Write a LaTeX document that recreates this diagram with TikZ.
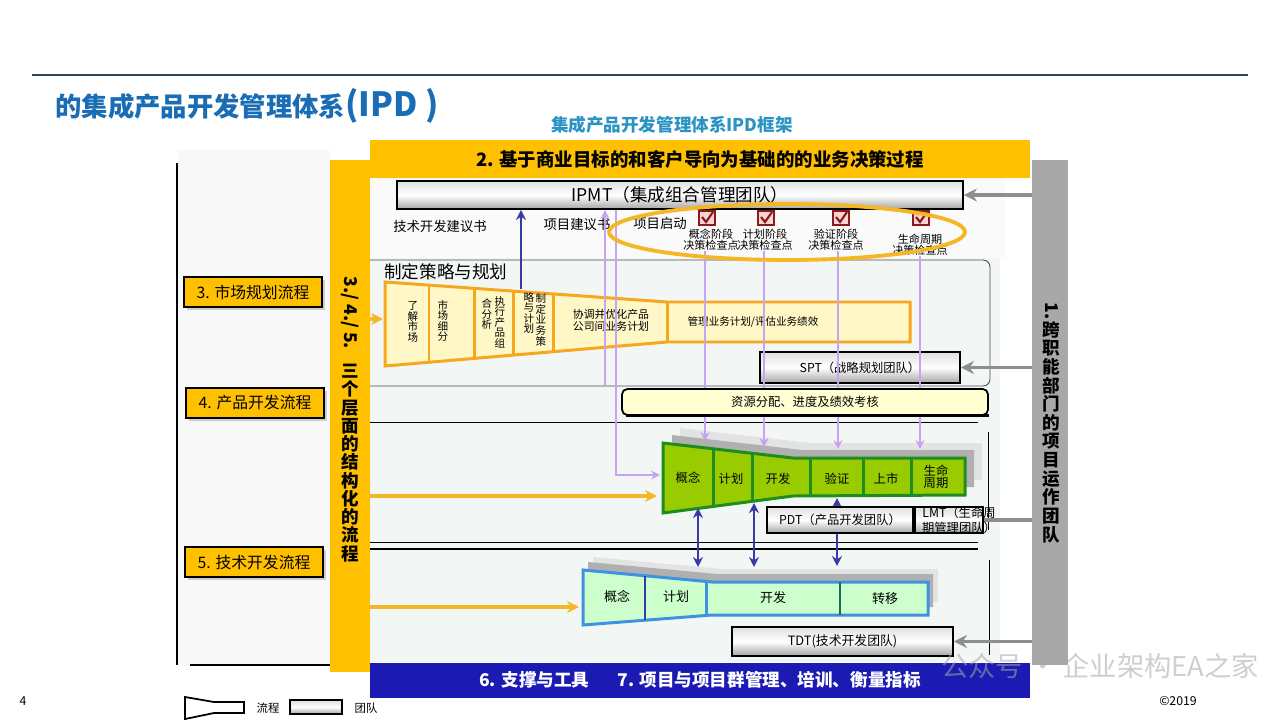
\documentclass[tikz,border=0pt]{standalone}
\usepackage{fontspec}
\setmainfont{Noto Sans CJK SC}
\usetikzlibrary{calc, positioning}
\usetikzlibrary{arrows.meta}
\usetikzlibrary{shapes.geometric}
\usetikzlibrary{shadows}

\newcommand{\ipdfs}[1]{\fontsize{#1}{#1}\selectfont}

\definecolor{ipdgold}{HTML}{FFC000}
\definecolor{ipdarrowgold}{HTML}{F4B826}
\definecolor{ipdtitle}{HTML}{1A6DB5}
\definecolor{ipdsub}{HTML}{2A93C3}
\definecolor{ipdrule}{HTML}{2F4858}
\definecolor{ipdnavy}{HTML}{3A3AA6}
\definecolor{ipdviolet}{HTML}{C7A4F2}
\definecolor{ipdgrey}{HTML}{8E8E8E}
\definecolor{ipdbar}{HTML}{A8A8A8}
\definecolor{ipdblue}{HTML}{1B1BB3}
\definecolor{stratline}{HTML}{F5A71E}
\definecolor{stratfill}{HTML}{FFF8C6}
\definecolor{prodfill}{HTML}{99CC00}
\definecolor{prodline}{HTML}{1E8C1E}
\definecolor{techfill}{HTML}{CCFFCC}
\definecolor{techline}{HTML}{3E92E2}
\definecolor{techteal}{HTML}{1B6B5B}
\definecolor{chkred}{HTML}{8B1A1A}
\definecolor{chkfill}{HTML}{F8D3D3}
\definecolor{mintbg}{HTML}{F2F7F5}
\definecolor{panelbg}{HTML}{F8F8F8}
\definecolor{resfill}{HTML}{FFFFD2}

\tikzset{
  teambox/.style={draw=black, line width=1.1pt, top color=gray!25, bottom color=gray!70, middle color=white, inner sep=1pt, font=\ipdfs{7}},
  flowlabel/.style={draw=black, line width=1.1pt, fill=ipdgold, drop shadow={shadow xshift=1.6pt, shadow yshift=-1.6pt, fill=gray!70}, minimum width=2.76cm, minimum height=0.6cm, inner sep=0pt, font=\ipdfs{9}},
  chkbox/.style={draw=chkred, line width=0.9pt, fill=chkfill, minimum width=0.32cm, minimum height=0.28cm, inner sep=0pt},
  chkmark/.style={chkred, line width=1.2pt},
  viopath/.style={ipdviolet, line width=1.1pt},
  navyarrow/.style={ipdnavy, line width=1.1pt},
  greyarrow/.style={ipdgrey, line width=1.8pt, -{Stealth[length=2.6mm, width=2.6mm]}},
  goldarrow/.style={ipdarrowgold, line width=1.8pt, -{Stealth[length=2.4mm, width=2.4mm]}},
  smalltxt/.style={font=\ipdfs{6.3}, align=center, inner sep=0pt},
  vstack/.style={font=\ipdfs{6}, align=center, inner sep=0pt},
  funnelcell/.style={font=\ipdfs{7}, align=center, inner sep=0pt},
}

\begin{document}
\begin{tikzpicture}[x=0.02cm, y=-0.02cm]
\useasboundingbox (0,0) rectangle (1280,720);

% header
\draw[ipdrule, line width=1.2pt] (32,75) -- (1248,75);
\node[anchor=west, inner sep=0pt, text=ipdtitle, font=\bfseries\ipdfs{15}] (title) at (55,106) {的集成产品开发管理体系{\ipdfs{19}(IPD )}};
\node[text=ipdsub, font=\bfseries\ipdfs{10}] (subtitle) at (672,125) {集成产品开发管理体系IPD框架};

% backgrounds
\fill[panelbg] (178,150) rectangle (330,666);
\draw[line width=0.6pt] (177,163) -- (177,665);
\draw[line width=0.6pt] (190,665) -- (330,665);
\fill[mintbg] (370,178) rectangle (1000,662);
\fill[gray!4] (370,178) rectangle (1005,258);

% frames and separators
\draw[gray!60!black, line width=0.5pt, rounded corners=4pt] (360,260) rectangle (990,386);
\draw[line width=0.5pt] (370,422) -- (978,422);
\draw[line width=0.5pt] (370,542) -- (978,542);
\draw[line width=1.2pt] (370,549) -- (978,549);
\draw[line width=0.5pt] (988,432) -- (988,530);
\draw[line width=0.5pt] (989,560) -- (989,655);

% bars
\node[fill=ipdgold, minimum width=13.2cm, minimum height=0.76cm, inner sep=0pt, font=\bfseries\ipdfs{10.5}] (decisionbar) at (700,159) {2. 基于商业目标的和客户导向为基础的的业务决策过程};
\node[fill=ipdgold, minimum width=0.8cm, minimum height=10.24cm, inner sep=0pt] (layerbar) at (350,416) {};
\node[rotate=-90, inner sep=0pt, font=\bfseries\ipdfs{10}] (layertag) at (350,313) {3./ 4./ 5.};
\node[align=center, inner sep=0pt, font=\bfseries\fontsize{10}{10.4}\selectfont] (layertext) at (350,463) {三\\个\\层\\面\\的\\结\\构\\化\\的\\流\\程};
\node[fill=ipdbar, minimum width=0.72cm, minimum height=10.1cm, inner sep=0pt] (crossbar) at (1050,412.5) {};
\node[rotate=-90, inner sep=0pt, font=\bfseries\ipdfs{10}] (crosstag) at (1052,311) {1.};
\node[align=center, inner sep=0pt, font=\bfseries\fontsize{10}{10.6}\selectfont] (crosstext) at (1051,432) {跨\\职\\能\\部\\门\\的\\项\\目\\运\\作\\团\\队};
\node[fill=ipdblue, minimum width=13.2cm, minimum height=0.7cm, inner sep=0pt, text=white, font=\bfseries\ipdfs{10}] (supportbar) at (700,680) {6. 支撑与工具\hspace{1.6em}7. 项目与项目群管理、培训、衡量指标};

% left process labels
\node[flowlabel] (mkt) at (253,292) {3. 市场规划流程};
\node[flowlabel] (pdev) at (255,403) {4. 产品开发流程};
\node[flowlabel] (tdev) at (254,562) {5. 技术开发流程};

% decision row
\node[teambox, minimum width=11.32cm, minimum height=0.56cm, font=\ipdfs{10}] (ipmt) at (680,195) {IPMT（集成组合管理团队）};
\node[font=\ipdfs{7.6}, inner sep=0pt] (techprop) at (440,226) {技术开发建议书};
\node[font=\ipdfs{7.6}, inner sep=0pt] (projprop) at (577,224) {项目建议书};
\node[font=\ipdfs{7.6}, inner sep=0pt] (projstart) at (660,223) {项目启动};
\foreach \n/\x in {1/707,2/766,3/841,4/921} {
  \node[chkbox] (cb\n) at (\x,218) {};
  \draw[chkmark] ($(cb\n.center)+(-5,-1)$) -- ($(cb\n.center)+(-1,4)$) -- ($(cb\n.center)+(6,-6)$);
}
\node[smalltxt] (cp1) at (711,240) {概念阶段\\决策检查点};
\node[smalltxt] (cp2) at (765,240) {计划阶段\\决策检查点};
\node[smalltxt] (cp3) at (836,240) {验证阶段\\决策检查点};
\node[smalltxt] (cp4) at (920,245) {生命周期\\决策检查点};

% strategy funnel
\node[anchor=west, inner sep=0pt, font=\ipdfs{10}] (stratlbl) at (384,272) {制定策略与规划};
\coordinate (sTL) at (385,282);
\coordinate (sTM) at (667,302);
\coordinate (sTR) at (910,302);
\coordinate (sBR) at (910,342);
\coordinate (sBM) at (667,342);
\coordinate (sBL) at (385,366);
\draw[stratline, fill=stratfill, line width=1.7pt] (sTL) -- (sTM) -- (sTR) -- (sBR) -- (sBM) -- (sBL) -- cycle;
\foreach \t in {0.156,0.319,0.454,0.596,1} {
  \draw[stratline, line width=1.7pt] ($(sTL)!\t!(sTM)$) -- ($(sBL)!\t!(sBM)$);
}
\node[vstack] (s1) at (413,322) {了\\解\\市\\场};
\node[vstack] (s2) at (443,321) {市\\场\\细\\分};
\node[vstack] (s3a) at (487,314) {合\\分\\析};
\node[vstack] (s3b) at (500,322) {执\\行\\产\\品\\组};
\node[vstack] (s4a) at (529,313) {略\\与\\计\\划};
\node[vstack] (s4b) at (541,320) {制\\定\\业\\务\\策};
\node[font=\fontsize{6.2}{7}\selectfont, align=center, inner sep=0pt] (s5) at (611,320) {协调并优化产品\\公司间业务计划};
\node[font=\ipdfs{6}, inner sep=0pt] (s6) at (753,322) {管理业务计划/评估业务绩效};
\node[teambox, minimum width=4cm, minimum height=0.62cm] (spt) at (860,367.5) {SPT（战略规划团队）};

% product funnel
\coordinate (pTL) at (663,443);
\coordinate (pTM) at (793,458);
\coordinate (pTR) at (965,458);
\coordinate (pBR) at (965,495);
\coordinate (pBM) at (793,496);
\coordinate (pBL) at (663,513);
\foreach \dx/\dy/\col in {17/-15/gray!22, 9/-8/gray!62} {
  \fill[\col, shift={(\dx,\dy)}] (663,443) -- (793,458) -- (965,458) -- (965,495) -- (793,496) -- (663,513) -- cycle;
}
\draw[prodline, fill=prodfill, line width=1.7pt] (pTL) -- (pTM) -- (pTR) -- (pBR) -- (pBM) -- (pBL) -- cycle;
\foreach \t in {0.385,0.69} {
  \draw[prodline, line width=1.7pt] ($(pTL)!\t!(pTM)$) -- ($(pBL)!\t!(pBM)$);
}
\foreach \x in {810,863,911} {
  \draw[prodline, line width=1.7pt] (\x,458) -- (\x,496);
}
\node[funnelcell] (pc1) at (688,478) {概念};
\node[funnelcell] (pc2) at (731,479) {计划};
\node[funnelcell] (pc3) at (778,479) {开发};
\node[funnelcell] (pc4) at (837,479) {验证};
\node[funnelcell] (pc5) at (886,479) {上市};
\node[funnelcell] (pc6) at (936,477) {生命\\周期};

% technology funnel
\coordinate (tTL) at (583,570);
\coordinate (tTM) at (712,582);
\coordinate (tTR) at (928,582);
\coordinate (tBR) at (928,615);
\coordinate (tBM) at (712,615);
\coordinate (tBL) at (583,625);
\foreach \dx/\dy/\col in {10/-13/gray!22, 5/-8/gray!62} {
  \fill[\col, shift={(\dx,\dy)}] (583,570) -- (712,582) -- (928,582) -- (928,615) -- (712,615) -- (583,625) -- cycle;
}
\draw[techline, fill=techfill, line width=1.7pt] (tTL) -- (tTM) -- (tTR) -- (tBR) -- (tBM) -- (tBL) -- cycle;
\draw[ipdnavy, line width=1.2pt] ($(tTL)!0.48!(tTM)$) -- ($(tBL)!0.48!(tBM)$);
\draw[techline, line width=1.8pt] ($(tTL)!0.96!(tTM)$) -- ($(tBL)!0.96!(tBM)$);
\draw[techteal, line width=1.3pt] (840,582) -- (840,615);
\node[funnelcell, font=\ipdfs{7.4}] (tc1) at (617,596) {概念};
\node[funnelcell, font=\ipdfs{7.4}] (tc2) at (676,597) {计划};
\node[funnelcell, font=\ipdfs{7.4}] (tc3) at (773,598) {开发};
\node[funnelcell, font=\ipdfs{7.4}] (tc4) at (885,599) {转移};

% violet and navy links to IPMT
\coordinate (propbase) at (605,386);
\coordinate (startx) at (616,475);
\coordinate (pIn) at (660,475);
\coordinate (sTop) at (521,289);
\draw[viopath, -{Stealth[length=1.8mm, width=1.8mm]}] (propbase) -- (propbase |- ipmt.south);
\draw[viopath, -{Stealth[length=1.8mm, width=1.8mm]}] (ipmt.south -| startx) -- (startx) -- (pIn);
\draw[navyarrow, -{Stealth[length=2mm, width=2mm]}] (sTop) -- (sTop |- ipmt.south);
\foreach \n/\x/\y in {1/705/441,2/764/447,3/838/449,4/920/449} {
  \coordinate (pin\n) at (\x,\y);
  \draw[viopath, -{Stealth[length=1.8mm, width=1.8mm]}] (pin\n |- cp\n.south) -- (pin\n);
}

\node[draw=black, line width=1pt, fill=resfill, rounded corners=3pt, minimum width=7.32cm, minimum height=0.52cm, inner sep=0pt, font=\ipdfs{7}] (resource) at (805,402) {资源分配、进度及绩效考核};
\draw[line width=1.6pt] ([xshift=3pt]resource.south west) -- (resource.south east);

% navy links product <-> technology
\foreach \n/\x/\ya/\yb in {1/698/508/567,2/754/503/567,3/837/498/566} {
  \coordinate (pb\n) at (\x,\ya);
  \coordinate (tt\n) at (\x,\yb);
  \draw[navyarrow, {Stealth[length=2mm, width=2mm]}-{Stealth[length=2mm, width=2mm]}] (pb\n) -- (tt\n);
}

% teams
\node[teambox, minimum width=2.92cm, minimum height=0.52cm] (pdt) at (840,520) {PDT（产品开发团队）};
\node[teambox, minimum width=1.36cm, minimum height=0.52cm] (lmt) at (949,520) {};
\node[teambox, minimum width=4.42cm, minimum height=0.58cm, font=\ipdfs{7.3}] (tdt) at (842.5,641.5) {TDT(技术开发团队)};

% grey links from the cross-functional bar
\draw[greyarrow] (crossbar.west |- ipmt.east) -- (ipmt.east);
\draw[greyarrow] (crossbar.west |- spt.east) -- (spt.east);
\draw[ipdgrey, line width=1.8pt] (crossbar.west |- lmt.east) -- (lmt.east);
\draw[greyarrow] (crossbar.west |- tdt.east) -- (tdt.east);
\node[font=\fontsize{7}{8.5}\selectfont, align=center, inner sep=0pt] (lmttxt) at (959,520) {LMT（生命周\\期管理团队）};

% gold links from the layer bar
\coordinate (sIn) at (383,319);
\coordinate (pInGold) at (657,496);
\coordinate (tIn) at (579,607);
\draw[goldarrow] (layerbar.east |- sIn) -- (sIn);
\draw[goldarrow] (layerbar.east |- pInGold) -- (pInGold);
\draw[goldarrow] (layerbar.east |- tIn) -- (tIn);

% decision checkpoints
\node[draw=ipdarrowgold, line width=2.2pt, ellipse, minimum width=7.12cm, minimum height=1.12cm] (gate) at (787,232) {};

% legend and footer
\draw[line width=1pt] (185,697) -- (214,702) -- (244,702) -- (244,713) -- (214,713) -- (185,719) -- cycle;
\node[font=\ipdfs{6.5}, inner sep=0pt] (legflow) at (268,708) {流程};
\node[teambox, line width=0.8pt, minimum width=1.04cm, minimum height=0.28cm] (legteam) at (316,707) {};
\node[font=\ipdfs{6.5}, inner sep=0pt] (legteamtxt) at (366,708) {团队};
\node[font=\ipdfs{7}, inner sep=0pt] (pageno) at (23,701) {4};
\node[font=\ipdfs{7}, inner sep=0pt] (copy) at (1178,701) {©2019};
\node[font=\ipdfs{15.5}, text=gray!70, opacity=0.55, inner sep=0pt] (mark) at (1100,666) {公众号 · 企业架构EA之家};
\end{tikzpicture}
\end{document}
